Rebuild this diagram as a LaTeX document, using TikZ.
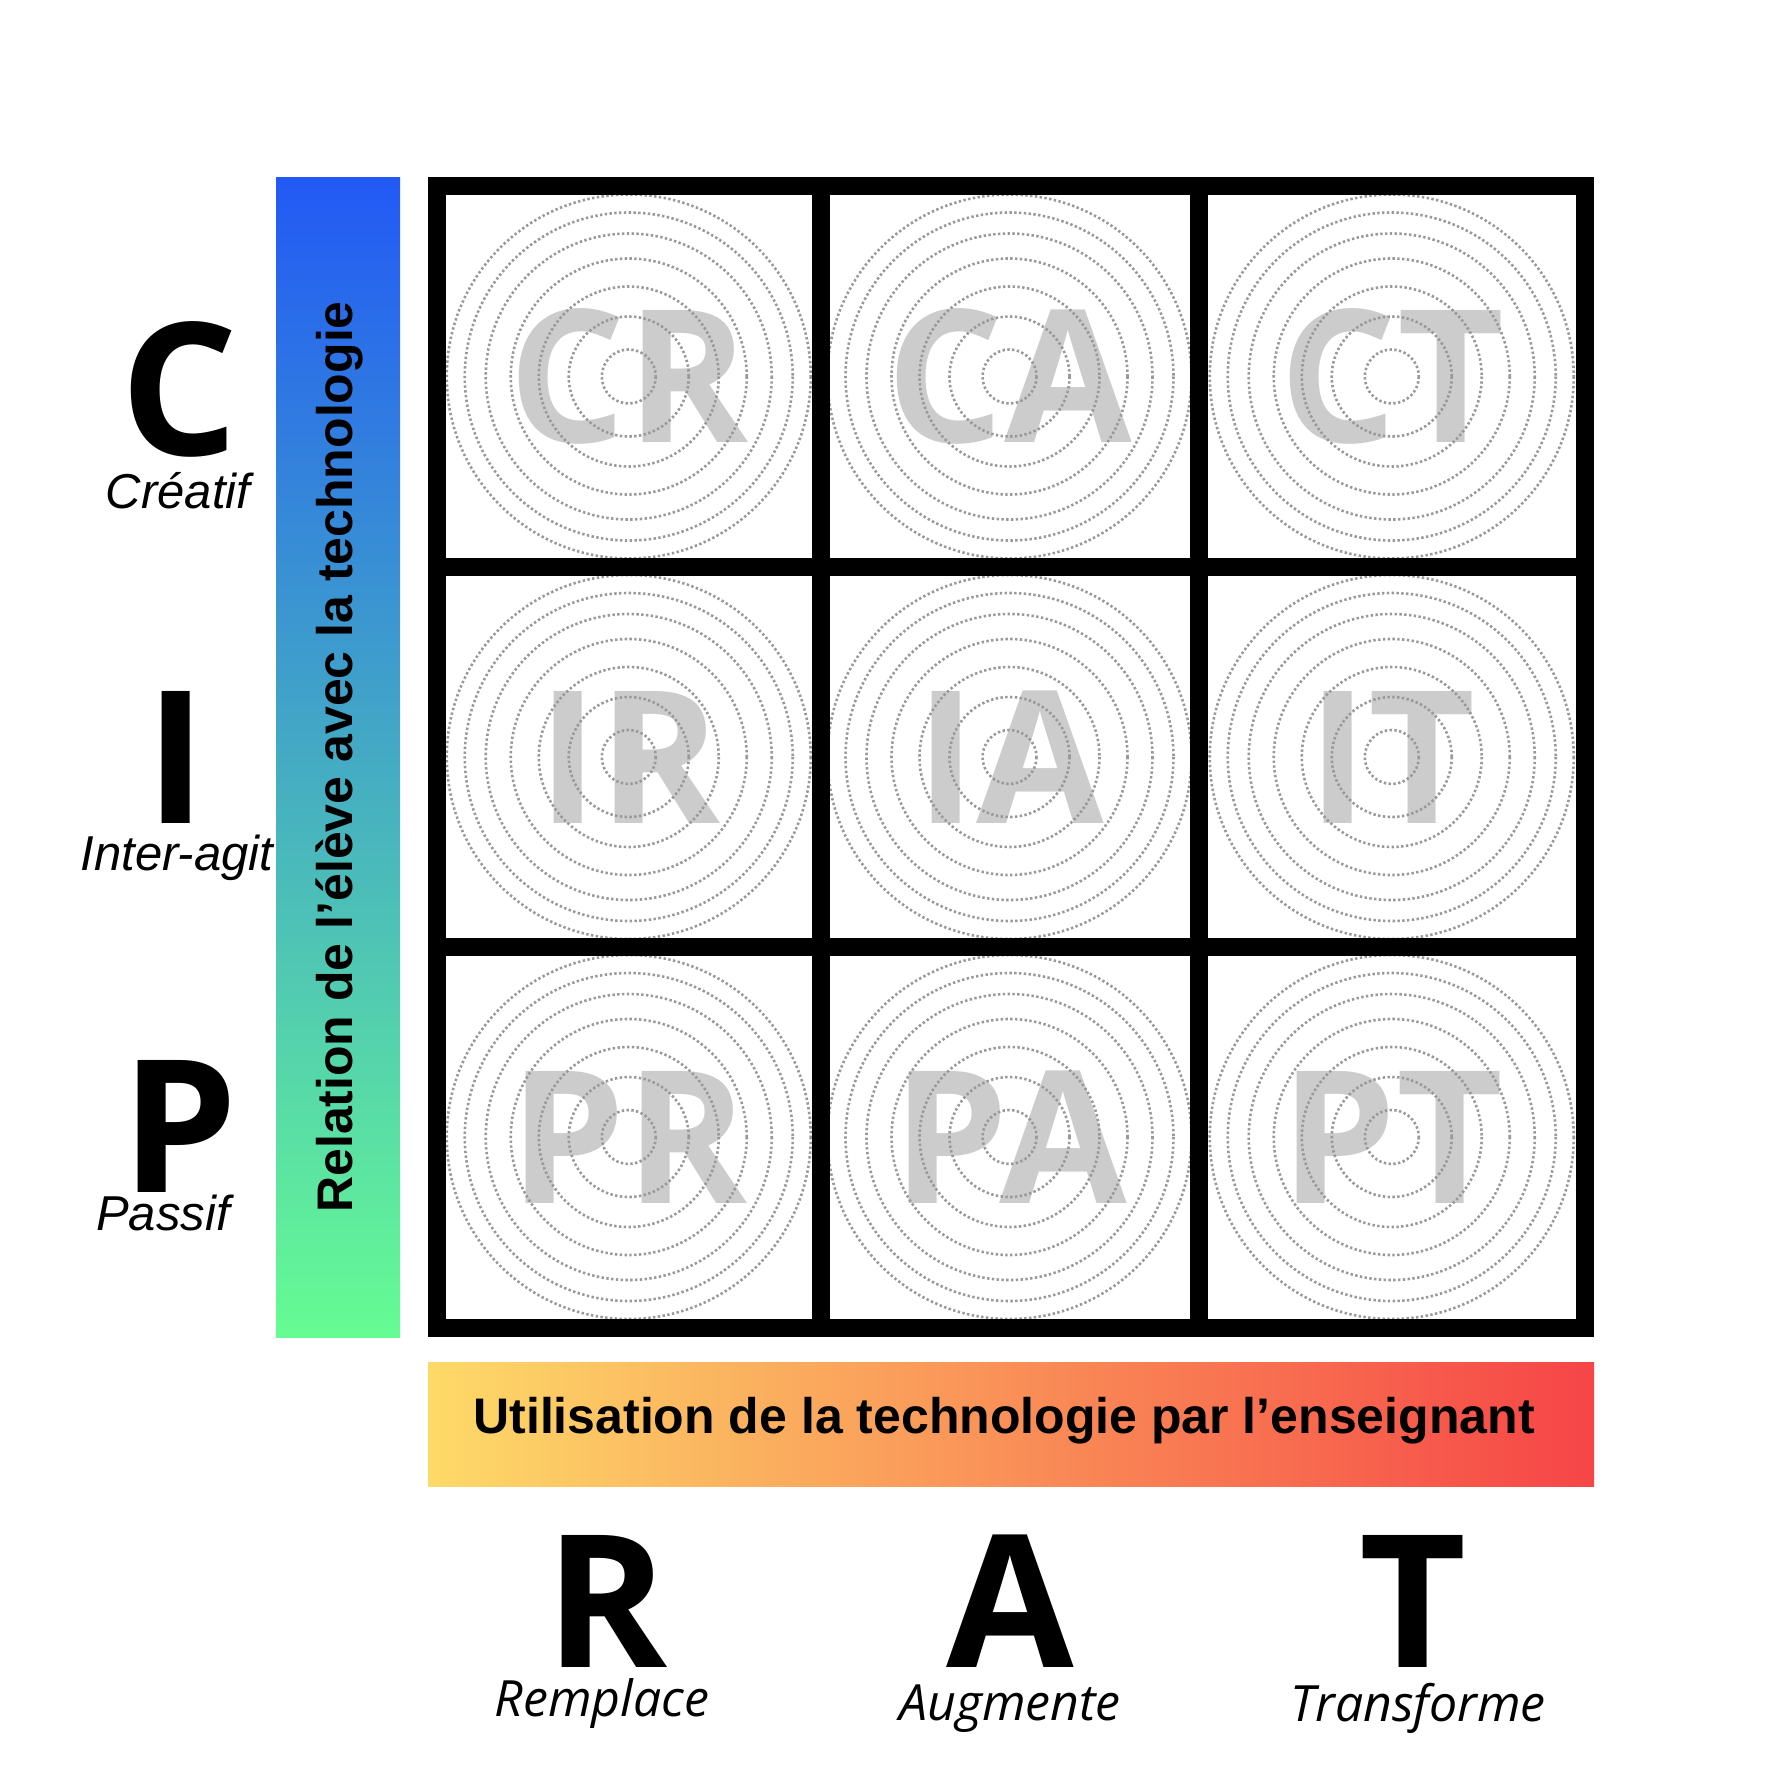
\documentclass[tikz,border=0pt]{standalone}
\usepackage{fontspec}
\setmainfont{Liberation Sans}
\newfontfamily\opensans{Open Sans}
\definecolor{cellgray}{HTML}{CCCCCC}
\definecolor{ringgray}{HTML}{999999}
\definecolor{barblue}{HTML}{2259F5}
\definecolor{bargreen}{HTML}{66FC93}
\definecolor{baryellow}{HTML}{FDDA68}
\definecolor{barred}{HTML}{F64547}

\begin{document}
\begin{tikzpicture}[
  x=1pt,y=-1pt,
  bigletter/.style={inner sep=0pt,anchor=base,font=\opensans\bfseries\fontsize{185}{185}\selectfont},
  celltag/.style={inner sep=0pt,text=cellgray,font=\opensans\bfseries\fontsize{185}{185}\selectfont},
  rowname/.style={inner sep=0pt,anchor=base,font=\itshape\fontsize{49}{49}\selectfont},
  colname/.style={inner sep=0pt,anchor=base,font=\opensans\itshape\fontsize{50}{50}\selectfont},
  barlabel/.style={inner sep=0pt,anchor=base,font=\bfseries\fontsize{50}{50}\selectfont},
  ring/.style={ringgray,line width=2.6pt,dash pattern=on 2.4pt off 2.4pt},
  gridline/.style={line width=18pt}
]
\useasboundingbox (0,0) rectangle (1772,1772);

% gradient bars
\shade[top color=barblue,bottom color=bargreen] (276,177) rectangle (400,1337);
\shade[left color=baryellow,right color=barred] (428,1362) rectangle (1594,1486);

% cells
\node[celltag] (cr) at (628.75,376.5) {CR};
\node[celltag] (ca) at (1009.5,376.5) {CA};
\node[celltag] (ct) at (1391.75,376.5) {CT};
\node[celltag] (ir) at (628.75,757) {IR};
\node[celltag] (ia) at (1009.5,757) {IA};
\node[celltag] (it) at (1391.75,757) {IT};
\node[celltag] (pr) at (628.75,1137) {PR};
\node[celltag] (pa) at (1009.5,1137) {PA};
\node[celltag] (pt) at (1391.75,1137) {PT};

\foreach \c in {cr,ca,ct,ir,ia,it,pr,pa,pt}
  \foreach \r in {27,60,90,118,143,164,182}
    \draw[ring] (\c.center) circle[radius=\r];

% grid
\draw[gridline] (437,186) rectangle (1585,1327.5);
\draw[gridline] (820.5,186) -- (820.5,1327.5);
\draw[gridline] (1198.5,186) -- (1198.5,1327.5);
\draw[gridline] (437,567) -- (1585,567);
\draw[gridline] (437,947) -- (1585,947);

% student side
\node[bigletter] (cmode) at (179,455) {C};
\node[rowname] (creatif) at (178,508) {Créatif};
\node[bigletter] (imode) at (176,823) {I};
\node[rowname] (interagit) at (177,870) {Inter-agit};
\node[bigletter] (pmode) at (180,1192) {P};
\node[rowname] (passif) at (163,1230) {Passif};
\node[barlabel,rotate=90] (relation) at (352,757) {Relation de l’élève avec la technologie};

% teacher side
\node[barlabel] (utilisation) at (1004,1433) {Utilisation de la technologie par l’enseignant};
\node[bigletter] (rlevel) at (607,1667) {R};
\node[bigletter] (alevel) at (1010,1667) {A};
\node[bigletter] (tlevel) at (1413,1667) {T};
\node[colname] (remplace) at (602,1716) {Remplace};
\node[colname] (augmente) at (1010,1720) {Augmente};
\node[colname] (transforme) at (1418,1721) {Transforme};
\end{tikzpicture}
\end{document}
